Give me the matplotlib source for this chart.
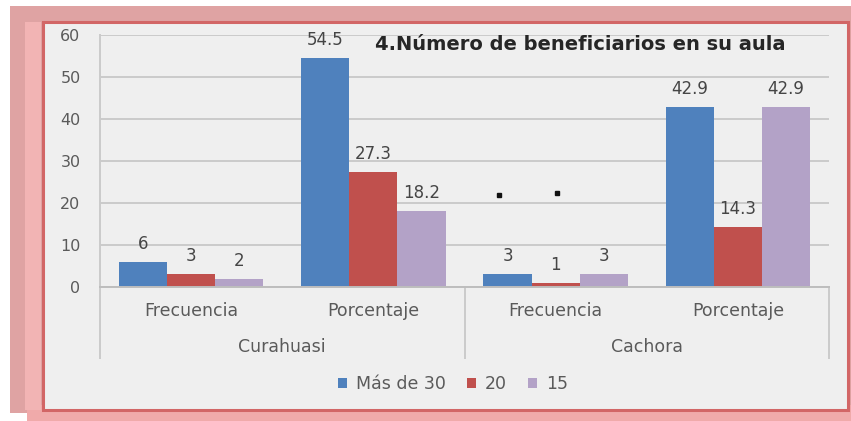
import matplotlib
matplotlib.use("Agg")
import matplotlib.pyplot as plt
import matplotlib.transforms as mtransforms
from matplotlib.patches import Rectangle
import numpy as np

# ---------------- data ----------------
categories = ["Frecuencia", "Porcentaje", "Frecuencia", "Porcentaje"]
groups = ["Curahuasi", "Cachora"]
series_names = ["Más de 30", "20", "15"]
mas_de_30 = [6, 54.5, 3, 42.9]
veinte = [3, 27.3, 1, 14.3]
quince = [2, 18.2, 3, 42.9]
y_ticks = [0, 10, 20, 30, 40, 50, 60]
stray_x = [1.69, 2.01]
stray_y = [22.0, 22.4]
title = "4.Número de beneficiarios en su aula"

colors = ["#4f81bd", "#c0504d", "#b3a2c7"]

plt.rcParams['font.family'] = ['DejaVu Sans']

W, H = 851, 421
fig = plt.figure(figsize=(W / 100, H / 100), dpi=100)
fig.patch.set_facecolor("white")


def fx(px):
    return px / W


def fy(py):
    return 1 - py / H


def frect(x0, y0, x1, y1, **kw):
    r = Rectangle((fx(x0), fy(y1)), (x1 - x0) / W, (y1 - y0) / H,
                  transform=fig.transFigure, **kw)
    fig.patches.append(r)
    return r


# pink frame around the chart panel
frect(10, 6, 851, 413, facecolor="#dfa3a3", edgecolor="none", zorder=-5)
frect(27, 405, 851, 421, facecolor="#f0aaaa", edgecolor="none", zorder=-4)
frect(25, 22, 41, 410, facecolor="#f2b4b4", edgecolor="none", zorder=-4)
frect(43, 22, 848, 410, facecolor="#efefef", edgecolor="#d26666",
      linewidth=2.2, zorder=-3)

# ---------------- axes ----------------
ax = fig.add_axes([fx(100), fy(287), (829 - 100) / W, (287 - 35) / H])
ax.set_facecolor("none")
ax.set_zorder(1)

x = np.arange(len(categories))
w = 0.264
series = [mas_de_30, veinte, quince]
handles = []
for k, (vals, col, name) in enumerate(zip(series, colors, series_names)):
    xs = x + (k - 1) * w
    b = ax.bar(xs, vals, width=w, color=col, label=name, zorder=2)
    handles.append(b)
    for xi, v in zip(xs, vals):
        lbl = f"{v:g}"
        ax.annotate(lbl, (xi, v), xytext=(0, 18), textcoords="offset pixels",
                    ha="center", va="center", fontsize=12, color="#454545",
                    annotation_clip=False, zorder=3)

ax.plot(stray_x, stray_y, "s", color="#111111", markersize=3, zorder=3)

ax.set_xlim(-0.5, len(categories) - 0.5)
ax.set_ylim(0, 60)
ax.set_yticks(y_ticks)
ax.set_xticks([])
ax.yaxis.grid(True, color="#cacaca", linewidth=1.4)
ax.set_axisbelow(True)
ax.tick_params(axis="y", length=0, pad=14, labelsize=11.5, labelcolor="#5a5a5a")
for s in ["top", "right"]:
    ax.spines[s].set_visible(False)
ax.spines["left"].set_color("#cacaca")
ax.spines["left"].set_linewidth(1.4)
ax.spines["bottom"].set_color("#bdbdbd")
ax.spines["bottom"].set_linewidth(1.4)

blend = mtransforms.blended_transform_factory(ax.transData, ax.transAxes)
axis_h = 287 - 35
for xs in [-0.5, 1.5, 3.5]:
    ax.plot([xs, xs], [0, -71 / axis_h], transform=blend, color="#cacaca",
            linewidth=1.4, clip_on=False)

for i, cat in enumerate(categories):
    ax.text(i, -24 / axis_h, cat, transform=blend, ha="center", va="center",
            fontsize=12.5, color="#5a5a5a")
for g, name in enumerate(groups):
    ax.text(2 * g + 0.5, -60 / axis_h, name, transform=blend, ha="center",
            va="center", fontsize=12.5, color="#5a5a5a")

fig.text(fx(375), fy(45), title, ha="left", va="center", fontsize=14,
         fontweight="bold", color="#262626", zorder=5)

fig.legend(handles, series_names, loc="center", bbox_to_anchor=(fx(453), fy(384)),
           ncol=3, frameon=False, fontsize=12.5, handlelength=0.5,
           handleheight=0.5, handletextpad=0.55, columnspacing=1.2,
           labelcolor="#5a5a5a")

fig.savefig("out.png", dpi=100)
